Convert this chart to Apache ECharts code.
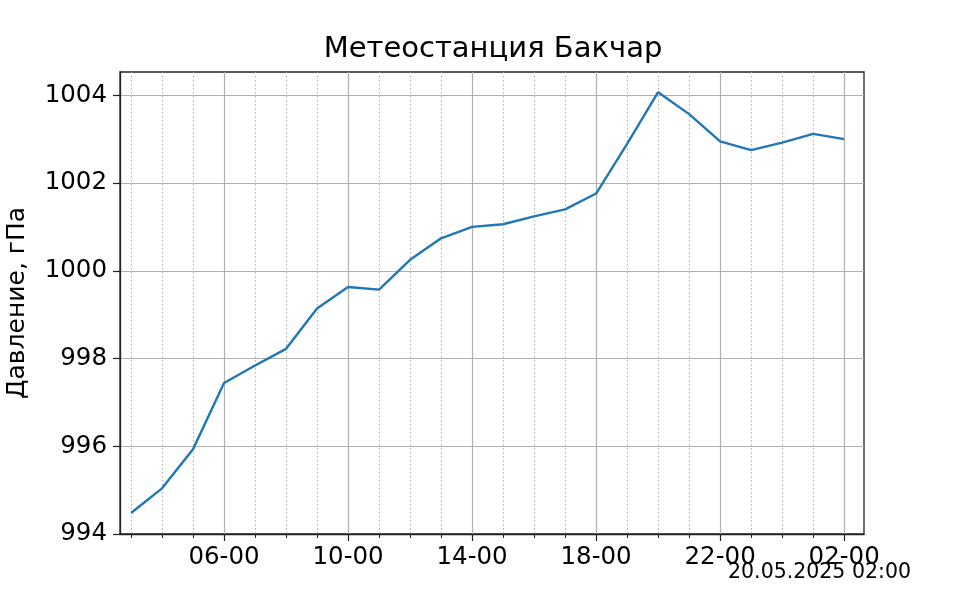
<!DOCTYPE html>
<html>
<head>
<meta charset="utf-8">
<script src="https://cdn.jsdelivr.net/npm/echarts@6/dist/echarts.min.js"></script>
<style>html,body{margin:0;padding:0;background:#fff;}#c{width:960px;height:600px;}</style>
</head>
<body>
<div id="c"></div>
<script>
// Hours elapsed since 03-00 (19.05.2025) for each observation
const hours = [0,1,2,3,4,5,6,7,8,9,10,11,12,13,14,15,16,17,18,19,20,21,22,23];
const pressure = [994.48,995.04,995.93,997.44,997.84,998.22,999.14,999.63,999.57,1000.25,1000.74,1001.00,1001.06,1001.24,1001.40,1001.76,1002.89,1004.07,1003.57,1002.95,1002.75,1002.92,1003.12,1003.00];
const startHour = 3;
const majorTicks = [3,7,11,15,19,23];            // 06-00 ... 02-00
const minorTicks = [0,1,2,4,5,6,8,9,10,12,13,14,16,17,18,20,21,22];
const yTicks = [994,996,998,1000,1002,1004];
const titleText = 'Метеостанция Бакчар';
const yName = 'Давление, гПа';
const stampText = '20.05.2025 02:00';

const fmt = v => {
  const h = (startHour + Math.round(v)) % 24;
  return (h < 10 ? '0' : '') + h + '-00';
};
const font = 'DejaVu Sans';
const xMin = -0.355, xMax = 23.64;

const chart = echarts.init(document.getElementById('c'), null, {renderer: 'canvas'});
chart.setOption({
  animation: false,
  backgroundColor: '#fff',
  textStyle: {fontFamily: font},
  title: {
    text: titleText, left: 488, top: 30, textAlign: 'center',
    textStyle: {fontFamily: font, fontSize: 29, fontWeight: 'normal', color: '#000'}
  },
  graphic: [
    {type: 'text', right: 49, top: 562, style: {text: stampText, font: '20.5px "DejaVu Sans"', fill: '#000'}}
  ],
  grid: {left: 120, right: 96, top: 72, bottom: 66, outerBoundsMode: 'none', containLabel: false,
         show: true, borderColor: '#222', borderWidth: 1.3, backgroundColor: 'transparent'},
  xAxis: [
    {
      type: 'value', min: xMin, max: xMax, position: 'bottom',
      axisLine: {show: true, onZero: false, lineStyle: {color: '#222', width: 1.3}},
      axisTick: {show: true, length: 7, customValues: majorTicks, lineStyle: {color: '#222', width: 1.2}},
      axisLabel: {show: true, customValues: majorTicks, formatter: fmt, margin: 11, color: '#000', fontSize: 24.5, fontFamily: font},
      splitLine: {show: true, lineStyle: {color: '#b0b0b0', width: 1.2, type: 'solid'}}
    },
    {
      type: 'value', min: xMin, max: xMax, position: 'bottom',
      axisLine: {show: false, onZero: false},
      axisTick: {show: true, length: 4, customValues: minorTicks, lineStyle: {color: '#222', width: 1}},
      axisLabel: {show: false},
      splitLine: {show: true, lineStyle: {color: '#b0b0b0', width: 1, type: [1.5, 2.5]}}
    }
  ],
  yAxis: {
    type: 'value', min: 994, max: 1004.53,
    name: yName, nameLocation: 'middle', nameRotate: 90, nameGap: 90,
    nameTextStyle: {fontFamily: font, fontSize: 25, color: '#000'},
    axisLine: {show: true, onZero: false, lineStyle: {color: '#222', width: 1.3}},
    axisTick: {show: true, length: 7, customValues: yTicks, lineStyle: {color: '#222', width: 1.2}},
    axisLabel: {show: true, customValues: yTicks, formatter: v => String(v), margin: 13, color: '#000', fontSize: 24.5, fontFamily: font},
    splitLine: {show: true, lineStyle: {color: '#b0b0b0', width: 1.2}}
  },
  series: [{
    type: 'line', xAxisIndex: 0,
    data: hours.map((h, i) => [h, pressure[i]]),
    showSymbol: false, symbol: 'none',
    lineStyle: {color: '#1f77b4', width: 2.4},
    z: 5
  }]
});
</script>
</body>
</html>
